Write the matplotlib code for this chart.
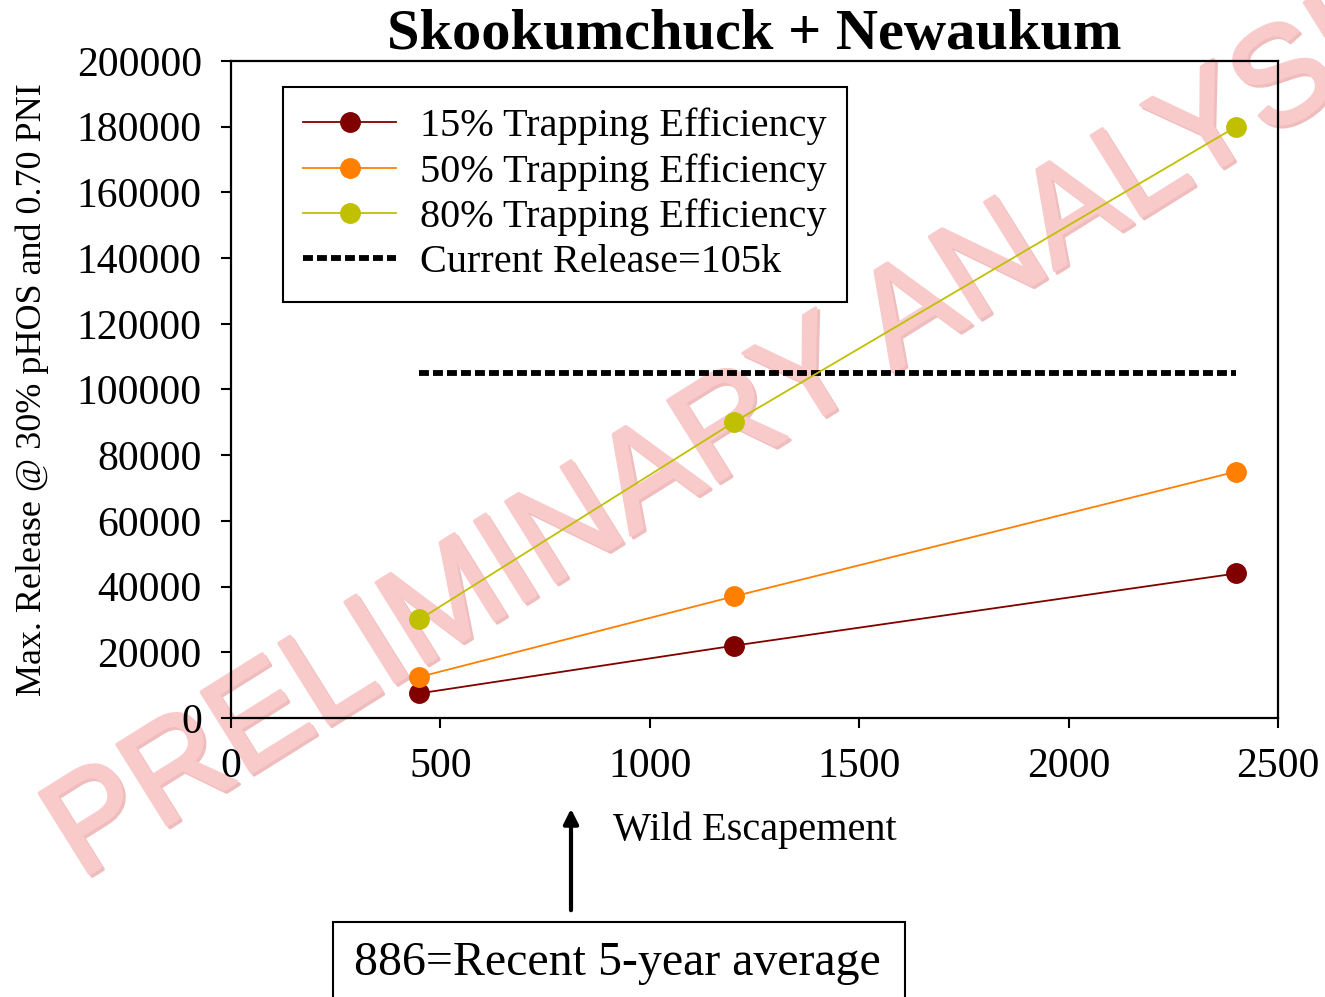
import numpy as np
import matplotlib
matplotlib.use('Agg')
import matplotlib.pyplot as plt
import matplotlib.patheffects as pe
from matplotlib.patches import Rectangle

# data
escapement = [450, 1200, 2400]
te15 = [7500, 22000, 44000]
te50 = [12500, 37000, 75000]
te80 = [30000, 90000, 180000]
current_release = 105000
labels = ['15% Trapping Efficiency', '50% Trapping Efficiency',
          '80% Trapping Efficiency', 'Current Release=105k']
colors = ['#800000', '#FF8000', '#C0C000']

plt.rcParams['font.family'] = ['Liberation Serif', 'DejaVu Serif']

W, H = 1325, 997
fig = plt.figure(figsize=(W / 100, H / 100), dpi=100)
ax = fig.add_axes([231 / W, (H - 718) / H, 1047 / W, 657 / H])
ax.patch.set_facecolor('none')

for ys, c, lb in zip([te15, te50, te80], colors, labels[:3]):
    ax.plot(escapement, ys, '-o', color=c, lw=1.3, ms=14, label=lb, zorder=3)
ax.plot([escapement[0], escapement[-1]], [current_release] * 2, color='black',
        lw=4.2, ls=(0, (1.7, 0.7)), dash_capstyle='butt', label=labels[3], zorder=2)

ax.set_xlim(0, 2500)
ax.set_ylim(0, 200000)
ax.set_xticks(np.arange(0, 2501, 500))
ax.set_yticks(np.arange(0, 200001, 20000))
ax.tick_params(axis='both', direction='out', length=7, width=1.5, labelsize=30)
ax.tick_params(axis='x', pad=14)
ax.tick_params(axis='y', pad=14)
for s in ax.spines.values():
    s.set_linewidth(1.6)
ax.set_ylabel('Max. Release @ 30% pHOS and 0.70 PNI', fontsize=26, labelpad=20)
ax.set_title('Skookumchuck + Newaukum', fontsize=42, fontweight='bold', pad=6)

leg = ax.legend(loc='upper left', bbox_to_anchor=(0.05, 0.96), borderaxespad=0,
                fontsize=29, frameon=True, fancybox=False, edgecolor='black',
                framealpha=1, handlelength=2.3, borderpad=0.5, labelspacing=0.2,
                handletextpad=0.6)
leg.get_frame().set_linewidth(1.5)

# x label and annotation outside the axes
fig.text(755 / W, 1 - 830 / H, 'Wild Escapement', fontsize=29, ha='center', va='center')
fig.patches.append(Rectangle((333 / W, -0.05), (905 - 333) / W, 0.05 + (H - 922) / H,
                             transform=fig.transFigure, fill=False, ec='black', lw=1.5))
fig.text(617 / W, 1 - 963 / H, '886=Recent 5-year average', fontsize=34.5,
         ha='center', va='center')
ax.annotate('', xy=(571 / W, 1 - 806 / H), xytext=(571 / W, 1 - 913 / H),
            xycoords='figure fraction', textcoords='figure fraction',
            arrowprops=dict(arrowstyle='-|>', color='black', lw=3, mutation_scale=22))

# watermark, behind the chart
fig.text(748 / W, 1 - 420 / H, 'PRELIMINARY ANALYSIS', fontsize=99,
         family='Liberation Sans', color='#F8CACA', rotation=32,
         ha='center', va='center', zorder=-1,
         path_effects=[pe.Stroke(offset=(2, -2), linewidth=2.5, foreground='#EFBDBD', joinstyle='round', capstyle='round'),
                       pe.Stroke(linewidth=2.5, foreground='#F8CACA', joinstyle='round', capstyle='round'),
                       pe.Normal()])

fig.savefig('out.png', dpi=100)
